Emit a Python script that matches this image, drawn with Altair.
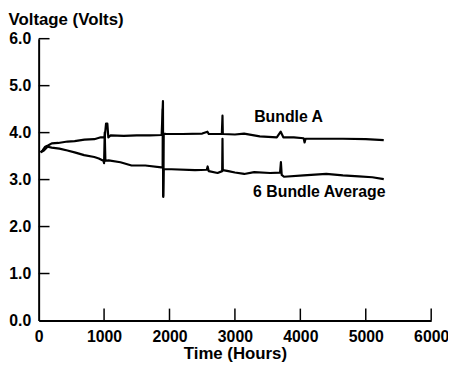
import altair as alt
import pandas as pd

# Bundle A trace (hours, volts)
a_t = [30, 60, 100, 150, 200, 300, 440, 550, 700, 850, 950, 1010, 1030, 1050, 1065, 1100, 1300, 1500, 1700, 1880,
       1900, 1905, 1912, 1950, 2200, 2500, 2580, 2600, 2800, 2810, 2815, 3000, 3140, 3380, 3640, 3700, 3720, 3740,
       3900, 4050, 4065, 4080, 4200, 4650, 5000, 5275]
a_v = [3.58, 3.62, 3.70, 3.73, 3.77, 3.78, 3.81, 3.82, 3.85, 3.86, 3.90, 3.90, 4.19, 4.19, 3.90, 3.94, 3.93, 3.94, 3.94, 3.95,
       4.67, 2.63, 3.98, 3.97, 3.97, 3.98, 4.02, 3.97, 3.97, 4.36, 3.97, 3.96, 3.98, 3.92, 3.90, 4.02, 3.96, 3.90,
       3.90, 3.88, 3.79, 3.87, 3.87, 3.87, 3.86, 3.84]

# 6 Bundle Average trace
b_t = [30, 80, 136, 200, 317, 440, 550, 695, 850, 920, 990, 1000, 1010, 1020, 1070, 1250, 1420, 1630, 1875, 1895,
       1898, 1903, 1910, 2030, 2390, 2570, 2583, 2600, 2735, 2805, 2810, 2815, 2900, 3000, 3142, 3295, 3537, 3690,
       3703, 3715, 3750, 4050, 4396, 4650, 4894, 5100, 5275]
b_v = [3.58, 3.62, 3.70, 3.68, 3.66, 3.62, 3.58, 3.52, 3.48, 3.45, 3.40, 3.35, 4.00, 3.40, 3.41, 3.37, 3.30, 3.30, 3.26, 3.26,
       4.50, 2.65, 3.22, 3.22, 3.20, 3.21, 3.28, 3.18, 3.14, 3.18, 3.87, 3.20, 3.18, 3.15, 3.12, 3.16, 3.14, 3.15,
       3.37, 3.10, 3.06, 3.09, 3.12, 3.09, 3.07, 3.05, 3.01]

series_names = ["Bundle A", "6 Bundle Average"]
label_texts = ["Bundle A", "6 Bundle Average"]
label_t = [3820, 4290]
label_v = [4.34, 2.74]

x_ticks = [0, 1000, 2000, 3000, 4000, 5000, 6000]
y_ticks = [0.0, 1.0, 2.0, 3.0, 4.0, 5.0, 6.0]

rows = []
for i, (t, v) in enumerate(zip(a_t, a_v)):
    rows.append({"t": t, "v": v, "series": series_names[0], "idx": i})
for i, (t, v) in enumerate(zip(b_t, b_v)):
    rows.append({"t": t, "v": v, "series": series_names[1], "idx": i})
df = pd.DataFrame(rows)

labels_df = pd.DataFrame({"t": label_t, "v": label_v, "text": label_texts})
xt_df = pd.DataFrame({"t": x_ticks[1:]})
yt_df = pd.DataFrame({"v": y_ticks[1:]})

FONT = "Liberation Sans"
W, H = 397, 285

xscale = alt.Scale(domain=[0, 6000], nice=False)
yscale = alt.Scale(domain=[0, 6], nice=False)

x_axis = alt.Axis(values=x_ticks, format="d", title="Time (Hours)", ticks=False, grid=False,
                  labelPadding=8, labelFlush=False, labelOverlap=False,
                  titleY=38, titleBaseline="alphabetic")
y_axis = alt.Axis(values=y_ticks, format=".1f", title="Voltage (Volts)", ticks=False, grid=False,
                  labelPadding=8, labelFlush=False, labelOverlap=False,
                  titleAngle=0, titleAlign="left", titleBaseline="alphabetic", titleX=-31, titleY=-14)

lines = alt.Chart(df).mark_line(color="black", strokeWidth=2.2, strokeJoin="round").encode(
    x=alt.X("t:Q", scale=xscale, axis=x_axis),
    y=alt.Y("v:Q", scale=yscale, axis=y_axis),
    detail="series:N",
    order="idx:Q",
)

texts = alt.Chart(labels_df).mark_text(font=FONT, fontWeight="bold", fontSize=16, color="black").encode(
    x=alt.X("t:Q", scale=xscale),
    y=alt.Y("v:Q", scale=yscale),
    text="text:N",
)

xticks_m = alt.Chart(xt_df).mark_rule(color="black", strokeWidth=1.5).encode(
    x=alt.X("t:Q", scale=xscale),
    y=alt.value(H),
    y2=alt.value(H - 12),
)
yticks_m = alt.Chart(yt_df).mark_rule(color="black", strokeWidth=1.5).encode(
    y=alt.Y("v:Q", scale=yscale),
    x=alt.value(0),
    x2=alt.value(11),
)

chart = alt.layer(lines, xticks_m, yticks_m, texts).properties(
    width=W, height=H,
    autosize=alt.AutoSizeParams(type="none"),
    padding={"left": 31, "top": 29, "right": 17, "bottom": 44},
    background="white",
).configure_view(stroke=None).configure_axis(
    domainColor="black", domainWidth=2,
    labelFont=FONT, labelFontSize=16, labelFontWeight="bold", labelColor="black",
    titleFont=FONT, titleFontSize=17, titleFontWeight="bold", titleColor="black",
)

chart.save("out.html", embed_options={"renderer": "svg", "actions": False})
